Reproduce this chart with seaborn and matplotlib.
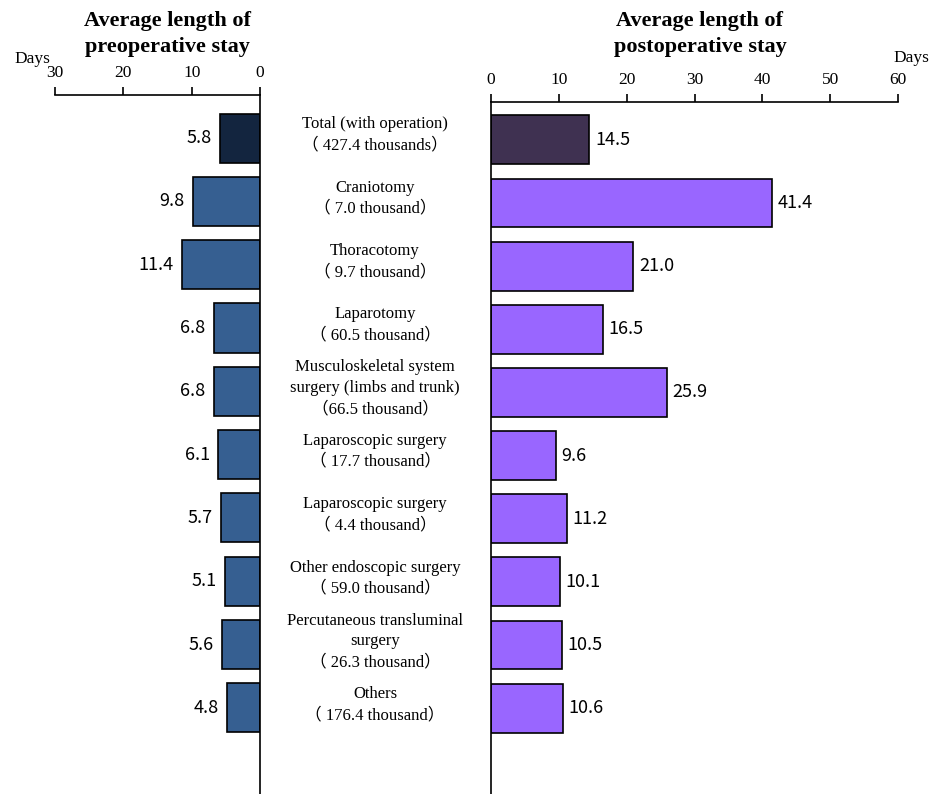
import matplotlib
matplotlib.use('Agg')
import matplotlib.pyplot as plt
import matplotlib.transforms as mtransforms
import seaborn as sns

# Data
categories = [
    'Total (with operation)\n（ 427.4 thousands）',
    'Craniotomy\n（ 7.0 thousand）',
    'Thoracotomy\n（ 9.7 thousand）',
    'Laparotomy\n（ 60.5 thousand）',
    'Musculoskeletal system\nsurgery (limbs and trunk)\n（66.5 thousand）',
    'Laparoscopic surgery\n（ 17.7 thousand）',
    'Laparoscopic surgery\n（ 4.4 thousand）',
    'Other endoscopic surgery\n（ 59.0 thousand）',
    'Percutaneous transluminal\nsurgery\n（ 26.3 thousand）',
    'Others\n（ 176.4 thousand）',
]
preop_days = [5.8, 9.8, 11.4, 6.8, 6.8, 6.1, 5.7, 5.1, 5.6, 4.8]
postop_days = [14.5, 41.4, 21.0, 16.5, 25.9, 9.6, 11.2, 10.1, 10.5, 10.6]
left_ticks = [30, 20, 10, 0]
right_ticks = [0, 10, 20, 30, 40, 50, 60]

left_colors = ['#13253f'] + ['#365f91'] * 9
right_colors = ['#3f3151'] + ['#9966ff'] * 9

sns.set_style('white')
serif = ['Liberation Serif', 'Noto Sans CJK JP']
plt.rcParams['font.family'] = serif
plt.rcParams['text.color'] = 'black'
plt.rcParams['xtick.color'] = 'black'

fig = plt.figure(figsize=(9.32, 7.94), dpi=100)
W, H = 932, 794

# left axes: x 55..260 px, top at 95 px
ax1 = fig.add_axes([55 / W, 0, 205 / W, (H - 95) / H])
# right axes: x 491..898 px, top at 102 px
ax2 = fig.add_axes([491 / W, 0, 407 / W, (H - 102) / H])

sns.barplot(x=preop_days, y=categories, hue=categories, palette=left_colors,
            orient='h', width=0.775, edgecolor='black', linewidth=1.2,
            saturation=1, legend=False, ax=ax1)
sns.barplot(x=postop_days, y=categories, hue=categories, palette=right_colors,
            orient='h', width=0.775, edgecolor='black', linewidth=1.2,
            saturation=1, legend=False, ax=ax2)

ax1.set_xlim(30, 0)
ax1.set_ylim(10.36, -0.68)
ax2.set_xlim(0, 60)
ax2.set_ylim(10.36, -0.6)

for ax, ticks in [(ax1, left_ticks), (ax2, right_ticks)]:
    ax.set_xticks(ticks)
    ax.set_xticklabels([str(t) for t in ticks], fontsize=12.5)
    ax.xaxis.tick_top()
    ax.tick_params(axis='x', direction='out', length=6, width=1.2,
                   pad=4, colors='black')
    ax.set_yticks([])
    ax.set_xlabel('')
    ax.set_ylabel('')
    ax.patch.set_alpha(0)
    for s in ax.spines.values():
        s.set_color('black')
        s.set_linewidth(1.2)

ax1.spines['left'].set_visible(False)
ax1.spines['bottom'].set_visible(False)
ax2.spines['right'].set_visible(False)
ax2.spines['bottom'].set_visible(False)

# value labels
num_font = 'Noto Sans CJK JP'
for i, v in enumerate(preop_days):
    ax1.annotate(f'{v:.1f}', (v, i), xytext=(-6, 0), textcoords='offset points',
                 ha='right', va='center', fontsize=13, family=num_font)
for i, v in enumerate(postop_days):
    ax2.annotate(f'{v:.1f}', (v, i), xytext=(4, 0), textcoords='offset points',
                 ha='left', va='center', fontsize=13, family=num_font)

# category labels in the middle
trans = mtransforms.blended_transform_factory(fig.transFigure, ax1.transData)
for i, lab in enumerate(categories):
    fig.text(375 / W, i - 0.05, lab, transform=trans, ha='center', va='center',
             fontsize=12, linespacing=1.4, family=serif)

# titles and unit labels
fig.text(167 / W, 1 - 34 / H, 'Average length of\npreoperative stay',
         ha='center', va='center', fontsize=16, fontweight='bold',
         linespacing=1.45)
fig.text(700 / W, 1 - 34 / H, 'Average length of\npostoperative stay',
         ha='center', va='center', fontsize=16, fontweight='bold',
         linespacing=1.45)
fig.text(14 / W, 1 - 59 / H, 'Days', ha='left', va='center', fontsize=12.5)
fig.text(893 / W, 1 - 58 / H, 'Days', ha='left', va='center', fontsize=12.5)

fig.savefig('out.png', dpi=100)
